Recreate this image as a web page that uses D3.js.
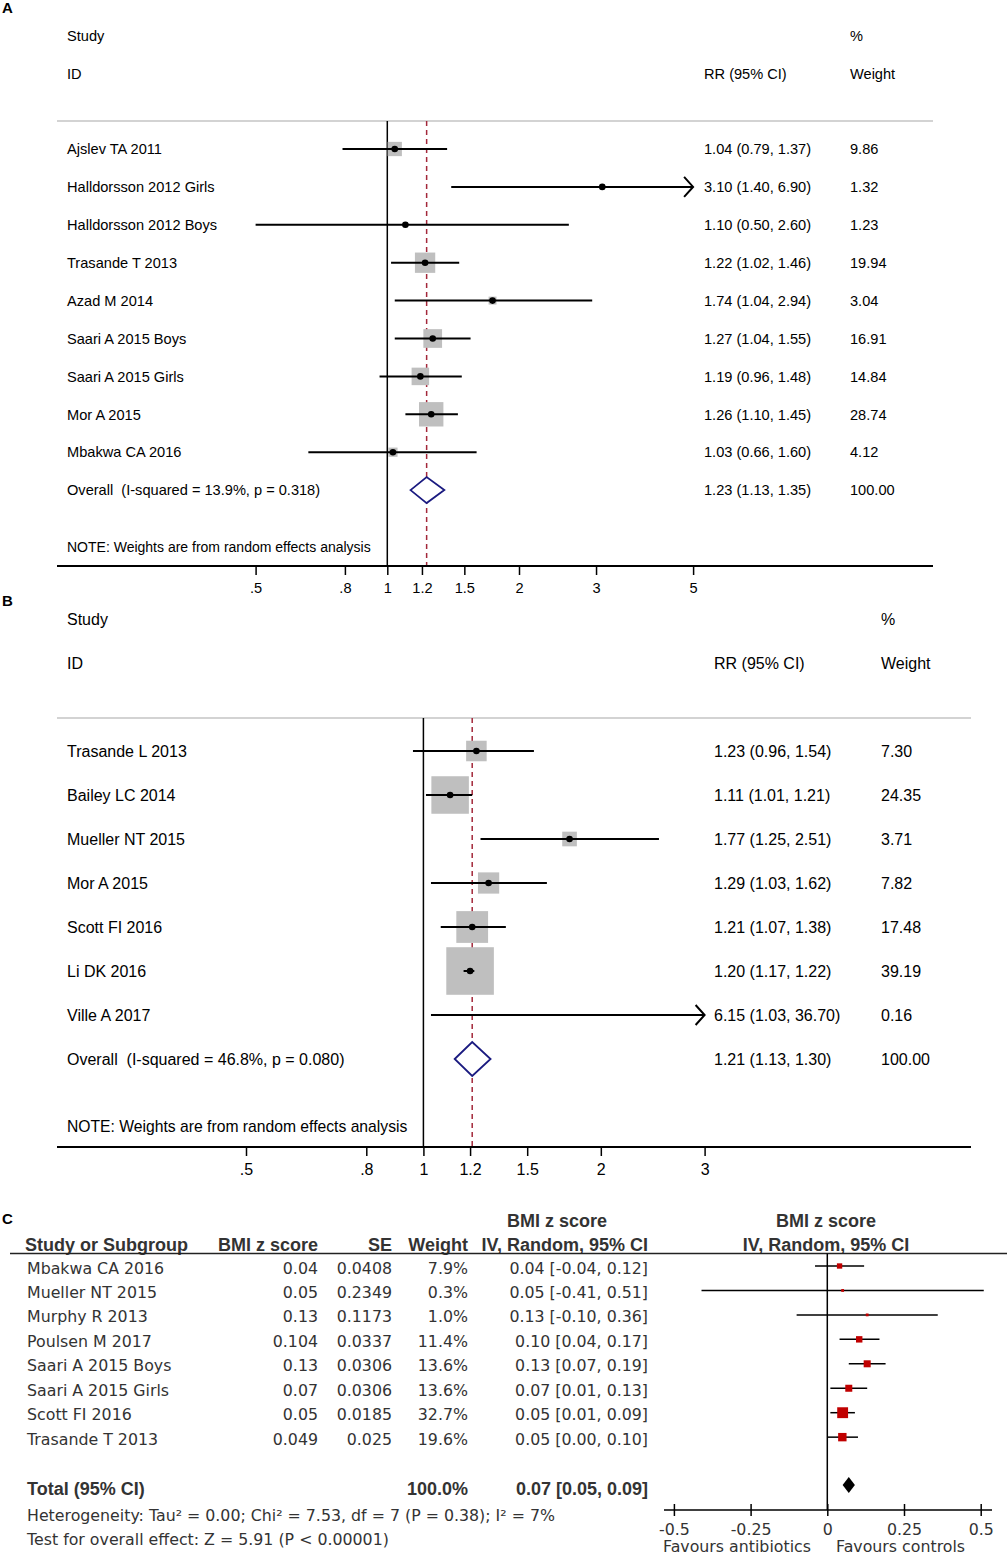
<!DOCTYPE html>
<html>
<head>
<meta charset="utf-8">
<script src="https://cdn.jsdelivr.net/npm/d3@7/dist/d3.min.js"></script>
<style>
  body { margin: 0; background: #fff; }
  text { font-family: "Liberation Sans", Arial, sans-serif; white-space: pre; }
</style>
</head>
<body>
<script>
// Panel A data
var studiesA = ["Ajslev TA 2011", "Halldorsson 2012 Girls", "Halldorsson 2012 Boys", "Trasande T 2013",
  "Azad M 2014", "Saari A 2015 Boys", "Saari A 2015 Girls", "Mor A 2015", "Mbakwa CA 2016"];
var rrA = [1.04, 3.10, 1.10, 1.22, 1.74, 1.27, 1.19, 1.26, 1.03];
var lowA = [0.79, 1.40, 0.50, 1.02, 1.04, 1.04, 0.96, 1.10, 0.66];
var highA = [1.37, 6.90, 2.60, 1.46, 2.94, 1.55, 1.48, 1.45, 1.60];
var weightA = [9.86, 1.32, 1.23, 19.94, 3.04, 16.91, 14.84, 28.74, 4.12];
var overallA = [1.23, 1.13, 1.35];
var overallLabelA = "Overall  (I-squared = 13.9%, p = 0.318)";
var ticksA = [0.5, 0.8, 1, 1.2, 1.5, 2, 3, 5];
var tickLabelsA = [".5", ".8", "1", "1.2", "1.5", "2", "3", "5"];

// Panel B data
var studiesB = ["Trasande L 2013", "Bailey LC 2014", "Mueller NT 2015", "Mor A 2015",
  "Scott FI 2016", "Li DK 2016", "Ville A 2017"];
var rrB = [1.23, 1.11, 1.77, 1.29, 1.21, 1.20, 6.15];
var lowB = [0.96, 1.01, 1.25, 1.03, 1.07, 1.17, 1.03];
var highB = [1.54, 1.21, 2.51, 1.62, 1.38, 1.22, 36.70];
var weightB = [7.30, 24.35, 3.71, 7.82, 17.48, 39.19, 0.16];
var overallB = [1.21, 1.13, 1.30];
var overallLabelB = "Overall  (I-squared = 46.8%, p = 0.080)";
var ticksB = [0.5, 0.8, 1, 1.2, 1.5, 2, 3];
var tickLabelsB = [".5", ".8", "1", "1.2", "1.5", "2", "3"];

// Panel C data
var studiesC = ["Mbakwa CA 2016", "Mueller NT 2015", "Murphy R 2013", "Poulsen M 2017",
  "Saari A 2015 Boys", "Saari A 2015 Girls", "Scott FI 2016", "Trasande T 2013"];
var zC = [0.04, 0.05, 0.13, 0.104, 0.13, 0.07, 0.05, 0.049];
var seC = [0.0408, 0.2349, 0.1173, 0.0337, 0.0306, 0.0306, 0.0185, 0.025];
var weightC = [7.9, 0.3, 1.0, 11.4, 13.6, 13.6, 32.7, 19.6];
var lowC = [-0.04, -0.41, -0.10, 0.04, 0.07, 0.01, 0.01, 0.00];
var highC = [0.12, 0.51, 0.36, 0.17, 0.19, 0.13, 0.09, 0.10];
var totalC = [0.07, 0.05, 0.09];
var ticksC = [-0.5, -0.25, 0, 0.25, 0.5];
var tickLabelsC = ["-0.5", "-0.25", "0", "0.25", "0.5"];

var svg = d3.select("body").append("svg")
    .attr("width", 1007)
    .attr("height", 1557);

svg.append("rect").attr("width", 1007).attr("height", 1557).attr("fill", "#fff");

var f2 = d3.format(".2f");

/**
 * Draws a Stata style forest plot (panels A and B).
 */
var forest = function(cfg) {
  var g = svg.append("g");
  var x = d3.scaleLog().domain(cfg.domain).range(cfg.range);
  var fs = cfg.fontSize;

  g.append("text").attr("x", 2).attr("y", cfg.panelY).text(cfg.panel)
      .style("font-weight", "bold").style("font-size", "15px");

  var head = [[67, cfg.headY1, "Study"], [67, cfg.headY2, "ID"], [cfg.rrX, cfg.headY2, "RR (95% CI)"],
              [cfg.wX, cfg.headY1, "%"], [cfg.wX, cfg.headY2, "Weight"]];
  g.selectAll(".head").data(head).enter().append("text")
      .attr("x", function(d) { return d[0]; })
      .attr("y", function(d) { return d[1] + fs * 0.36; })
      .style("font-size", fs + "px")
      .text(function(d) { return d[2]; });

  g.append("line").attr("x1", 57).attr("x2", cfg.lineEnd)
      .attr("y1", cfg.sepY).attr("y2", cfg.sepY)
      .attr("stroke", "#c4c4c4").attr("stroke-width", 1.5);

  var rowY = function(i) { return cfg.rowY0 + i * cfg.rowStep; };
  var overallY = rowY(cfg.studies.length);

  // null line at 1 and dashed overall line
  g.append("line").attr("x1", x(1)).attr("x2", x(1))
      .attr("y1", cfg.sepY).attr("y2", cfg.axisY)
      .attr("stroke", "#000").attr("stroke-width", 1.5);
  g.append("line").attr("x1", x(cfg.overall[0])).attr("x2", x(cfg.overall[0]))
      .attr("y1", cfg.sepY).attr("y2", cfg.axisY)
      .attr("stroke", "#a3283a").attr("stroke-width", 1.5)
      .attr("stroke-dasharray", "5,4");

  var rows = cfg.studies.map(function(s, i) {
    return {name: s, rr: cfg.rr[i], lo: cfg.low[i], hi: cfg.high[i], w: cfg.weight[i], y: rowY(i)};
  });

  var dMin = cfg.domain[0], dMax = cfg.domain[1];
  var inside = function(d) { return d.rr >= dMin && d.rr <= dMax; };

  var row = g.selectAll(".row").data(rows).enter().append("g");

  row.filter(inside).append("rect")
      .attr("x", function(d) { return x(d.rr) - cfg.boxK * Math.sqrt(d.w) / 2; })
      .attr("y", function(d) { return d.y - cfg.boxK * Math.sqrt(d.w) / 2; })
      .attr("width", function(d) { return cfg.boxK * Math.sqrt(d.w); })
      .attr("height", function(d) { return cfg.boxK * Math.sqrt(d.w); })
      .attr("fill", "#bfbfbf");

  row.append("line")
      .attr("x1", function(d) { return x(Math.max(d.lo, dMin)); })
      .attr("x2", function(d) { return x(Math.min(d.hi, dMax)); })
      .attr("y1", function(d) { return d.y; })
      .attr("y2", function(d) { return d.y; })
      .attr("stroke", "#000").attr("stroke-width", 2);

  // arrow heads for clipped intervals
  row.filter(function(d) { return d.hi > dMax; }).append("path")
      .attr("d", function(d) {
        var xe = x(dMax);
        return "M" + (xe - 9) + "," + (d.y - 10) + "L" + xe + "," + d.y + "L" + (xe - 9) + "," + (d.y + 10);
      })
      .attr("fill", "none").attr("stroke", "#000").attr("stroke-width", 2);

  row.filter(inside).append("circle")
      .attr("cx", function(d) { return x(d.rr); })
      .attr("cy", function(d) { return d.y; })
      .attr("r", 3.3).attr("fill", "#000");

  row.append("text").attr("x", 67).attr("y", function(d) { return d.y + fs * 0.36; })
      .style("font-size", fs + "px").text(function(d) { return d.name; });
  row.append("text").attr("x", cfg.rrX).attr("y", function(d) { return d.y + fs * 0.36; })
      .style("font-size", fs + "px")
      .text(function(d) { return f2(d.rr) + " (" + f2(d.lo) + ", " + f2(d.hi) + ")"; });
  row.append("text").attr("x", cfg.wX).attr("y", function(d) { return d.y + fs * 0.36; })
      .style("font-size", fs + "px").text(function(d) { return f2(d.w); });

  // overall diamond
  var ov = cfg.overall;
  g.append("path")
      .attr("d", "M" + x(ov[1]) + "," + overallY + "L" + x(ov[0]) + "," + (overallY - cfg.diamH) +
                 "L" + x(ov[2]) + "," + overallY + "L" + x(ov[0]) + "," + (overallY + cfg.diamH) + "Z")
      .attr("fill", "#fff").attr("stroke", "#1a1a80").attr("stroke-width", 1.8);
  g.append("text").attr("x", 67).attr("y", overallY + fs * 0.36)
      .style("font-size", fs + "px").text(cfg.overallLabel);
  g.append("text").attr("x", cfg.rrX).attr("y", overallY + fs * 0.36)
      .style("font-size", fs + "px")
      .text(f2(ov[0]) + " (" + f2(ov[1]) + ", " + f2(ov[2]) + ")");
  g.append("text").attr("x", cfg.wX).attr("y", overallY + fs * 0.36)
      .style("font-size", fs + "px").text(f2(100));

  g.append("text").attr("x", 67).attr("y", cfg.noteY + fs * 0.36)
      .style("font-size", cfg.noteSize + "px").text("NOTE: Weights are from random effects analysis");

  // axis
  g.append("line").attr("x1", 57).attr("x2", cfg.lineEnd)
      .attr("y1", cfg.axisY).attr("y2", cfg.axisY)
      .attr("stroke", "#000").attr("stroke-width", 2);
  var axis = d3.axisBottom(x).tickValues(cfg.ticks)
      .tickFormat(function(d, i) { return cfg.tickLabels[i]; })
      .tickSize(9).tickPadding(8);
  var ag = g.append("g").attr("transform", "translate(0," + cfg.axisY + ")").call(axis);
  ag.select(".domain").remove();
  ag.selectAll(".tick line").attr("stroke-width", 1.5);
  ag.selectAll(".tick text").style("font-size", fs + "px")
      .style("font-family", "'Liberation Sans', Arial, sans-serif").attr("fill", "#000");
};

forest({
  panel: "A", panelY: 13, fontSize: 14.6, noteSize: 14,
  studies: studiesA, rr: rrA, low: lowA, high: highA, weight: weightA,
  overall: overallA, overallLabel: overallLabelA,
  ticks: ticksA, tickLabels: tickLabelsA,
  domain: [0.5, 5], range: [255.6, 693.1],
  headY1: 36, headY2: 74, sepY: 121, rowY0: 149, rowStep: 37.9,
  noteY: 547, axisY: 566, lineEnd: 933, rrX: 704, wX: 850,
  boxK: 4.55, diamH: 13
});

forest({
  panel: "B", panelY: 606, fontSize: 16, noteSize: 15.7,
  studies: studiesB, rr: rrB, low: lowB, high: highB, weight: weightB,
  overall: overallB, overallLabel: overallLabelB,
  ticks: ticksB, tickLabels: tickLabelsB,
  domain: [0.5, 3], range: [246, 704.6],
  headY1: 619, headY2: 663, sepY: 718, rowY0: 751, rowStep: 44,
  noteY: 1126, axisY: 1147, lineEnd: 971, rrX: 714, wX: 881,
  boxK: 7.6, diamH: 17
});

// Panel C (RevMan style)
var gc = svg.append("g").style("fill", "#333");
var fc = 18;              // bold header size
var fr = 15.8;            // regular text size
var regFont = "'DejaVu Sans', Verdana, sans-serif";
var xc = d3.scaleLinear().domain([-0.5, 0.5]).range([673.9, 980.7]);
var cRowY = function(i) { return 1266 + i * 24.45; };

gc.append("text").attr("x", 2).attr("y", 1224).text("C")
    .style("font-weight", "bold").style("font-size", "15px").attr("fill", "#000");

var headC1 = [[557, "BMI z score", "middle"], [826, "BMI z score", "middle"]];
var headC2 = [[25, "Study or Subgroup", "start"], [318, "BMI z score", "end"], [392, "SE", "end"],
              [468, "Weight", "end"], [648, "IV, Random, 95% CI", "end"], [826, "IV, Random, 95% CI", "middle"]];
gc.selectAll(".h1").data(headC1).enter().append("text")
    .attr("x", function(d) { return d[0]; }).attr("y", 1227)
    .attr("text-anchor", function(d) { return d[2]; })
    .style("font-size", fc + "px").style("font-weight", "bold")
    .text(function(d) { return d[1]; });
gc.selectAll(".h2").data(headC2).enter().append("text")
    .attr("x", function(d) { return d[0]; }).attr("y", 1251)
    .attr("text-anchor", function(d) { return d[2]; })
    .style("font-size", fc + "px").style("font-weight", "bold")
    .text(function(d) { return d[1]; });

gc.append("line").attr("x1", 10).attr("x2", 1007).attr("y1", 1253.5).attr("y2", 1253.5)
    .attr("stroke", "#222").attr("stroke-width", 1.5);

var rowsC = studiesC.map(function(s, i) {
  return {name: s, z: zC[i], se: seC[i], w: weightC[i], lo: lowC[i], hi: highC[i], y: cRowY(i)};
});

var cols = [
  [27, "start", function(d) { return d.name; }],
  [318, "end", function(d) { return String(d.z); }],
  [392, "end", function(d) { return String(d.se); }],
  [468, "end", function(d) { return d.w.toFixed(1) + "%"; }],
  [648, "end", function(d) { return d.z.toFixed(2) + " [" + d.lo.toFixed(2) + ", " + d.hi.toFixed(2) + "]"; }]
];
cols.forEach(function(c) {
  gc.selectAll(null).data(rowsC).enter().append("text")
      .attr("x", c[0]).attr("y", function(d) { return d.y + 7.5; })
      .attr("text-anchor", c[1])
      .style("font-size", fr + "px").style("font-family", regFont)
      .text(c[2]);
});

// zero line
gc.append("line").attr("x1", xc(0)).attr("x2", xc(0)).attr("y1", 1253.5).attr("y2", 1510)
    .attr("stroke", "#000").attr("stroke-width", 1.5);

gc.selectAll(".ci").data(rowsC).enter().append("line")
    .attr("x1", function(d) { return xc(d.lo); })
    .attr("x2", function(d) { return xc(d.hi); })
    .attr("y1", function(d) { return d.y; })
    .attr("y2", function(d) { return d.y; })
    .attr("stroke", "#000").attr("stroke-width", 1.5);

var sq = function(w) { return Math.max(2.8, 1.9 * Math.sqrt(w)); };
gc.selectAll(".sq").data(rowsC).enter().append("rect")
    .attr("x", function(d) { return xc(d.z) - sq(d.w) / 2; })
    .attr("y", function(d) { return d.y - sq(d.w) / 2; })
    .attr("width", function(d) { return sq(d.w); })
    .attr("height", function(d) { return sq(d.w); })
    .attr("fill", "#c00000");

var totY = 1485;
gc.append("path")
    .attr("d", "M" + xc(totalC[1]) + "," + totY + "L" + xc(totalC[0]) + "," + (totY - 8) +
               "L" + xc(totalC[2]) + "," + totY + "L" + xc(totalC[0]) + "," + (totY + 8) + "Z")
    .attr("fill", "#000");

gc.append("text").attr("x", 27).attr("y", totY + 10).style("font-size", fc + "px")
    .style("font-weight", "bold").text("Total (95% CI)");
gc.append("text").attr("x", 468).attr("y", totY + 10).attr("text-anchor", "end")
    .style("font-size", fc + "px").style("font-weight", "bold").text("100.0%");
gc.append("text").attr("x", 648).attr("y", totY + 10).attr("text-anchor", "end")
    .style("font-size", fc + "px").style("font-weight", "bold")
    .text(totalC[0].toFixed(2) + " [" + totalC[1].toFixed(2) + ", " + totalC[2].toFixed(2) + "]");
gc.append("text").attr("x", 27).attr("y", 1521).style("font-size", fr + "px").style("font-family", regFont)
    .text("Heterogeneity: Tau\u00b2 = 0.00; Chi\u00b2 = 7.53, df = 7 (P = 0.38); I\u00b2 = 7%");
gc.append("text").attr("x", 27).attr("y", 1545).style("font-size", fr + "px").style("font-family", regFont)
    .text("Test for overall effect: Z = 5.91 (P < 0.00001)");

// axis C
gc.append("line").attr("x1", 664).attr("x2", 992).attr("y1", 1510).attr("y2", 1510)
    .attr("stroke", "#000").attr("stroke-width", 1.5);
var axisC = d3.axisBottom(xc).tickValues(ticksC)
    .tickFormat(function(d, i) { return tickLabelsC[i]; })
    .tickSize(6).tickPadding(8);
var agc = gc.append("g").attr("transform", "translate(0,1510)").call(axisC);
agc.select(".domain").remove();
agc.selectAll(".tick line").attr("y1", -6).attr("stroke-width", 1.5);
agc.selectAll(".tick text").style("font-size", fr + "px")
    .style("font-family", regFont).attr("fill", "#333");

gc.append("text").attr("x", 663).attr("y", 1552).style("font-size", fr + "px").style("font-family", regFont)
    .text("Favours antibiotics");
gc.append("text").attr("x", 836).attr("y", 1552).style("font-size", fr + "px").style("font-family", regFont)
    .text("Favours controls");
</script>
</body>
</html>
